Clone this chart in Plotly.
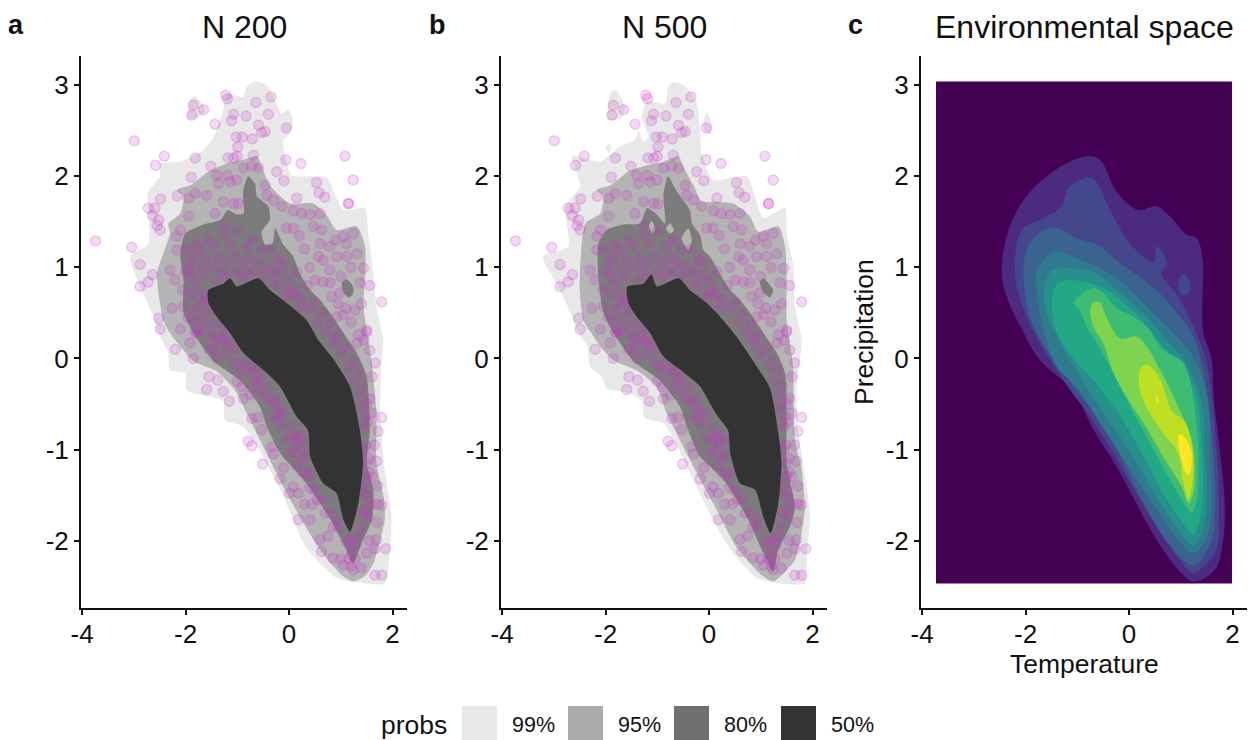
import plotly.graph_objects as go

W, H = 1250, 732   # figure size; the page sits 8 px in from the window corner
x_ticks = [-4, -2, 0, 2]
x_tick_labels = ["-4", "-2", "0", "2"]
y_ticks = [-2, -1, 0, 1, 2, 3]
y_tick_labels = ["-2", "-1", "0", "1", "2", "3"]
legend_labels = ["99%", "95%", "80%", "50%"]
panel_titles = ["N 200", "N 500", "Environmental space"]
panel_letters = ["a", "b", "c"]

a_99 = [(-0.66,3.04),(-0.43,3.0),(-0.24,2.80),(-0.15,2.69),(-0.01,2.73),(0.08,2.58),(-0.01,2.45),(-0.11,2.40),(0.05,2.01),(0.47,2.0),(0.73,1.98),(1.05,1.63),(1.47,1.65),(1.53,1.37),(1.63,0.94),(1.69,0.57),(1.82,0.20),(1.79,-0.05),(1.76,-0.60),(1.85,-1.22),(1.98,-1.74),(1.95,-2.07),(1.85,-2.47),(1.24,-2.45),(0.92,-2.41),(0.53,-2.21),(0.28,-2.03),(-0.17,-1.44),(-0.88,-0.75),(-1.24,-0.68),(-1.27,-0.47),(-1.98,-0.35),(-2.0,-0.16),(-2.30,-0.13),(-2.33,0.06),(-2.55,0.31),(-2.62,0.46),(-2.88,0.79),(-3.07,1.08),(-3.04,1.15),(-2.72,1.25),(-2.72,1.83),(-2.49,2.0),(-2.49,2.14),(-2.10,2.16),(-1.65,2.29),(-1.46,2.43),(-1.27,2.73),(-1.20,2.91),(-0.88,2.87),(-0.82,2.98)]
a_99_lobe = [(-1.91,2.84),(-1.82,2.88),(-1.62,2.73),(-1.72,2.65),(-1.95,2.63)]
a_95 = [(-2.17,1.85),(-1.91,1.90),(-1.56,2.05),(-1.20,2.14),(-0.88,2.18),(-0.62,2.22),(-0.53,2.11),(-0.37,1.90),(-0.17,1.78),(0.02,1.70),(0.47,1.70),(0.73,1.57),(0.92,1.41),(1.31,1.45),(1.47,1.23),(1.47,0.90),(1.44,0.57),(1.60,-0.05),(1.69,-0.60),(1.69,-1.15),(1.83,-1.52),(1.85,-1.77),(1.63,-2.25),(1.47,-2.39),(1.24,-2.45),(1.02,-2.38),(0.60,-2.10),(0.21,-1.74),(-0.11,-1.41),(-0.82,-0.60),(-1.04,-0.35),(-1.40,-0.14),(-1.85,-0.03),(-2.04,0.09),(-2.30,0.28),(-2.43,0.42),(-2.55,0.93),(-2.30,1.37),(-2.33,1.48),(-2.10,1.59),(-2.04,1.78)]
a_80 = [(-2.10,1.12),(-2.01,1.37),(-1.65,1.47),(-1.33,1.52),(-1.18,1.63),(-1.01,1.58),(-0.88,1.59),(-0.89,1.83),(-0.79,2.0),(-0.66,1.92),(-0.62,1.78),(-0.40,1.67),(-0.37,1.52),(-0.53,1.39),(-0.46,1.25),(-0.32,1.26),(-0.27,1.43),(-0.11,1.25),(0.08,1.12),(0.21,0.93),(0.41,0.75),(0.60,0.64),(0.79,0.50),(1.05,0.28),(1.31,0.06),(1.50,-0.20),(1.56,-0.79),(1.50,-1.15),(1.63,-1.44),(1.60,-1.77),(1.40,-2.03),(1.24,-2.25),(1.05,-2.03),(0.73,-1.70),(0.28,-1.33),(-0.17,-1.04),(-0.43,-0.75),(-0.56,-0.53),(-0.95,-0.24),(-1.46,-0.03),(-1.72,0.17),(-1.88,0.31),(-2.04,0.50),(-2.04,0.86)]
a_80_island = [(1.02,0.83),(1.11,0.87),(1.24,0.79),(1.23,0.70),(1.15,0.67),(1.05,0.73)]
a_50 = [(-1.56,0.75),(-1.27,0.82),(-1.14,0.88),(-1.01,0.79),(-0.59,0.88),(-0.37,0.75),(-0.05,0.61),(0.34,0.42),(0.57,0.20),(0.82,0.02),(1.18,-0.31),(1.37,-0.79),(1.43,-1.15),(1.34,-1.59),(1.18,-1.90),(1.05,-1.77),(0.92,-1.48),(0.66,-1.37),(0.41,-1.08),(0.37,-0.79),(0.15,-0.64),(-0.17,-0.31),(-0.43,-0.16),(-0.88,0.06),(-1.14,0.28),(-1.40,0.46),(-1.56,0.61)]

b_99 = [(-0.69,3.03),(-0.46,2.99),(-0.24,2.80),(-0.17,2.47),(-0.14,2.25),(0.08,1.96),(0.73,2.0),(1.05,1.54),(1.47,1.65),(1.50,1.37),(1.63,1.01),(1.66,0.57),(1.79,0.20),(1.69,-0.38),(1.72,-0.78),(1.89,-1.41),(1.95,-1.74),(1.89,-2.17),(1.85,-2.47),(1.24,-2.46),(0.92,-2.41),(0.47,-2.14),(0.15,-1.85),(-0.24,-1.41),(-0.88,-0.71),(-1.24,-0.66),(-1.30,-0.47),(-1.53,-0.38),(-1.98,-0.33),(-2.07,-0.20),(-2.30,-0.09),(-2.35,0.13),(-2.55,0.31),(-2.65,0.46),(-2.91,0.79),(-3.21,1.12),(-2.72,1.23),(-2.78,1.67),(-2.49,1.89),(-2.65,2.22),(-2.10,2.16),(-1.72,2.33),(-1.43,2.40),(-1.36,2.51),(-1.27,2.38),(-1.17,2.43),(-1.30,2.65),(-1.20,2.82),(-0.85,2.80),(-0.79,2.98)]
b_99_lobe_left = [(-1.81,2.95),(-1.62,2.76),(-1.69,2.64),(-1.94,2.62),(-1.91,2.91)]
b_99_lobe_right = [(-0.11,2.58),(-0.05,2.70),(0.05,2.58),(0.03,2.46),(-0.08,2.49)]
b_99_spot = [(-1.99,2.31),(-1.94,2.36),(-1.88,2.31),(-1.94,2.25)]
b_95 = [(-2.17,1.85),(-1.91,1.90),(-1.56,2.05),(-1.20,2.12),(-0.88,2.16),(-0.59,2.22),(-0.50,2.11),(-0.30,1.90),(-0.14,1.72),(0.08,1.72),(0.47,1.70),(0.79,1.56),(0.95,1.39),(1.34,1.45),(1.47,1.23),(1.50,0.90),(1.50,0.42),(1.62,-0.05),(1.66,-0.89),(1.79,-1.22),(1.85,-1.66),(1.66,-2.21),(1.24,-2.45),(1.02,-2.38),(0.53,-2.07),(0.08,-1.59),(-0.17,-1.33),(-0.82,-0.60),(-1.01,-0.31),(-1.40,-0.13),(-1.85,-0.02),(-2.10,0.13),(-2.30,0.30),(-2.43,0.42),(-2.50,0.79),(-2.39,1.48),(-2.10,1.59),(-2.04,1.78)]
b_80 = [(-2.14,1.26),(-1.98,1.41),(-1.65,1.47),(-1.33,1.48),(-1.20,1.65),(-1.01,1.58),(-0.85,1.48),(-0.88,1.81),(-0.79,2.0),(-0.66,1.87),(-0.53,1.76),(-0.37,1.63),(-0.33,1.48),(-0.17,1.35),(-0.11,1.19),(0.02,1.12),(0.21,0.93),(0.41,0.75),(0.60,0.64),(0.79,0.50),(1.05,0.28),(1.31,0.06),(1.47,-0.16),(1.50,-0.60),(1.50,-1.15),(1.66,-1.63),(1.56,-1.85),(1.34,-2.10),(1.24,-2.34),(1.11,-2.21),(0.73,-1.74),(0.28,-1.33),(-0.17,-1.08),(-0.43,-0.75),(-0.56,-0.53),(-0.95,-0.24),(-1.46,-0.03),(-1.72,0.17),(-1.88,0.31),(-2.04,0.50),(-2.14,0.90)]
b_95_gap_1 = [(-1.16,1.45),(-1.11,1.51),(-1.04,1.42),(-1.09,1.37)]
b_95_gap_2 = [(-0.83,1.43),(-0.75,1.48),(-0.68,1.41),(-0.75,1.37)]
b_95_gap_3 = [(-0.53,1.32),(-0.40,1.43),(-0.33,1.30),(-0.40,1.19)]
b_80_island = [(0.98,0.84),(1.05,0.88),(1.24,0.75),(1.18,0.67),(1.05,0.73)]
b_50 = [(-1.58,0.79),(-1.27,0.82),(-1.11,0.92),(-1.01,0.79),(-0.59,0.88),(-0.37,0.75),(-0.05,0.61),(0.21,0.46),(0.53,0.24),(0.82,0.0),(1.18,-0.33),(1.34,-0.82),(1.40,-1.15),(1.34,-1.59),(1.19,-1.92),(1.05,-1.74),(0.89,-1.44),(0.60,-1.37),(0.41,-1.04),(0.37,-0.79),(0.15,-0.62),(-0.17,-0.31),(-0.50,-0.15),(-0.88,0.02),(-1.14,0.28),(-1.40,0.46),(-1.56,0.61)]

occ_points = [(-2.99,2.39),(-3.74,1.29),(-3.04,1.22),(-2.88,1.03),(-2.88,0.79),(-2.72,0.84),(-2.64,0.92),(-2.58,2.12),(-2.41,2.22),(-1.81,2.20),(-1.89,1.99),(-2.16,1.78),(-2.48,1.75),(-2.72,1.65),(-2.59,1.65),(-2.64,1.57),(-2.52,1.52),(-2.55,1.46),(-2.49,1.41),(-1.85,2.78),(-1.88,2.67),(-1.65,2.73),(-1.43,2.57),(-1.22,2.89),(-1.19,2.85),(-1.07,2.68),(-1.11,2.61),(-0.83,2.66),(-0.64,2.81),(-0.35,2.87),(-0.40,2.68),(-0.05,2.53),(-0.59,2.56),(-0.53,2.48),(-0.46,2.49),(-1.02,2.43),(-0.90,2.43),(-0.71,2.41),(-0.99,2.32),(-1.18,2.20),(-1.07,2.20),(-1.00,2.22),(-0.69,2.23),(-0.06,2.18),(0.23,2.14),(-0.24,2.05),(-0.10,1.95),(1.08,2.22),(1.24,1.96),(1.15,1.70),(1.15,1.70),(0.53,1.93),(0.58,1.82),(0.69,1.77),(0.15,1.76),(1.79,0.62),(1.56,0.80),
(-1.51,2.11),(-0.88,2.09),(-0.72,2.11),(-0.59,2.09),(-1.40,2.01),(-1.19,2.01),(-1.36,1.92),(-1.14,1.94),(-1.01,1.96),(-1.81,1.81),(-1.94,1.76),(-1.59,1.79),(-1.27,1.72),(-1.07,1.70),(-0.98,1.70),(-0.46,1.90),(-0.43,1.79),(-0.30,1.74),(-0.14,1.67),(0.08,1.62),(0.24,1.59),(0.41,1.58),(0.60,1.59),(-1.94,1.56),(-1.43,1.59),(-1.27,1.45),(-2.10,1.41),(-2.17,1.34),(-2.17,1.19),(-2.30,0.97),(-2.20,0.86),(-1.91,0.94),(-1.72,1.19),(-1.46,1.23),(-1.14,1.26),(-0.82,1.23),(-0.53,1.19),(-0.21,1.08),(-0.05,1.43),(0.08,1.43),(0.47,1.45),(0.63,1.41),(1.05,1.34),(1.24,1.37),(0.60,1.26),(0.79,1.23),(1.11,1.26),(0.57,1.12),(0.66,1.08),(0.92,1.12),(1.11,1.12),(1.31,1.15),(1.44,0.99),(0.79,0.97),(0.50,0.86),(0.66,0.84),(0.79,0.83),(1.37,0.83),(0.82,0.68),(0.98,0.72),(0.92,0.46),(1.05,0.48),(1.27,0.53),(1.50,0.31),(1.34,0.26),(0.21,0.55),(-0.05,0.68),(-2.26,0.55),(-2.52,0.44),(-2.49,0.32),(-2.10,0.32),(-1.81,0.29),(-2.04,0.57),(-1.40,0.39),
(-2.20,0.10),(-1.85,0.0),(-1.91,0.17),(-1.78,0.28),(-1.40,0.0),(-1.27,0.20),(-1.38,-0.24),(-1.59,-0.34),(-1.27,-0.36),(-1.15,-0.47),(-0.91,-0.31),(-0.75,-0.40),(-0.88,-0.44),(-0.66,-0.14),(-0.40,-0.44),(-0.72,-0.66),(-0.79,-0.91),(-0.72,-0.96),(-0.51,-1.16),(-0.17,-1.32),(0.08,-1.41),(0.18,-1.48),(0.01,-1.48),(0.18,-1.77),(0.41,-1.77),(0.60,-1.99),(0.63,-2.12),(0.85,-2.19),(1.05,-2.27),(1.24,-2.32),(1.66,-2.38),(1.79,-2.38),(1.66,-2.09),(1.87,-2.09),(1.50,-2.14),(1.79,-1.61),(1.71,-1.40),(1.69,-1.99),(1.79,-0.65),(1.72,-0.80),(1.56,-0.44),(1.66,-0.05),(1.56,0.09),(1.47,-0.64),(1.37,-0.53),(1.44,-1.48),(1.53,-1.74),(1.69,-1.13),(1.50,0.29),(1.31,0.17),(0.89,0.17),(1.15,-2.03),(0.92,-1.77),(0.41,-1.26),(0.21,-0.84),(0.02,-1.04),(-0.21,-0.64),(-0.53,-0.78),(-0.33,-0.97),(0.08,-0.89),
(-2.0,1.2),(-1.85,1.1),(-1.7,1.0),(-1.6,1.1),(-1.5,1.0),(-1.35,1.1),(-1.2,1.05),(-1.05,1.12),(-0.9,1.05),(-0.75,1.1),(-0.6,1.05),(-0.45,1.0),(-0.3,0.95),(-0.15,0.92),(0.0,0.85),(-2.0,0.95),(-1.85,0.85),(-1.75,0.75),(-1.65,0.9),(-1.9,0.7),(-1.8,0.55),(-1.7,0.45),(-1.6,0.35),(-1.5,0.25),(-1.55,0.5),(-1.75,0.3),(-1.3,0.95),(-1.0,0.95),(-0.8,0.95),(-0.5,0.9),(-0.2,0.8),(0.1,0.75),(0.25,0.65),(0.4,0.55),(0.55,0.4),(0.7,0.3),(0.85,0.22),(1.0,0.05),(1.15,-0.1),(1.25,-0.25),(1.35,-0.4),(1.45,-0.75),(1.48,-0.95),(1.48,-1.15),(1.5,-1.3),(1.52,-1.5),(1.48,-1.65),(1.4,-1.85),(1.3,-2.05),(1.2,-2.15),(1.1,-2.0),(0.95,-1.85),(0.8,-1.7),(0.65,-1.55),(0.5,-1.45),(0.35,-1.3),(0.25,-1.1),(0.2,-0.95),(0.05,-0.75),(-0.1,-0.6),(-0.25,-0.45),(-0.4,-0.3),(-0.55,-0.2),(-0.7,-0.1),(-0.85,-0.05),(-1.0,0.1),(-1.1,0.18),(-1.25,0.35),(-1.4,0.2),(-1.55,0.1),(-1.2,0.05),(-0.95,-0.12),(-0.6,-0.3),(-0.3,-0.65),(0.1,-1.0),(0.45,-1.6),(0.75,-1.95),(1.0,-2.2),
(1.2,1.0),(1.0,0.9),(0.9,1.3),(1.2,0.4),(1.4,0.6),(0.3,1.2),(0.4,1.0),(0.2,1.35),(0.95,0.6),(1.1,0.55),(1.45,0.2),(1.6,-0.2),(1.6,-0.6),(1.65,-0.95),(1.6,-1.3),(1.7,-1.6),(1.7,-1.8),(1.55,-2.0),(1.4,-2.3),(0.3,-1.6),(-0.1,-1.2),(-0.3,-1.05),(-0.6,-0.65),(-1.0,-0.25),(-1.55,-0.2),
(-1.95,1.05),(-1.8,1.25),(-1.55,1.3),(-1.25,1.35),(-1.0,1.4),(-0.7,1.3),(-0.35,1.2),(-0.1,1.05),(0.15,0.95),(0.35,0.8),(-2.05,0.75),(-1.95,0.45),(-1.85,0.4),(-1.65,0.65),(-1.45,0.7),(-1.6,0.7),(-1.7,0.6),(-1.5,0.6),(-1.4,0.85),(-1.2,0.9),(-0.9,0.88),(-0.7,0.95),(-0.3,0.82),(0.0,0.72),(0.15,0.68),(0.5,0.62),(0.65,0.5),(0.8,0.38),(0.95,0.27),(1.1,0.12),(1.25,-0.02),(1.35,-0.15),(1.42,-0.3),(1.5,-0.5),(1.52,-0.7),(1.45,-1.0),(1.55,-1.1),(1.55,-1.25),(1.45,-1.4),(1.58,-1.6),(1.42,-1.7),(1.35,-1.95),(1.25,-1.98),(1.15,-2.2),(1.28,-2.2),(1.2,-2.28),(0.85,-1.85),(0.7,-1.7),(0.55,-1.55),(0.4,-1.42),(0.25,-1.25),(0.15,-1.18),(0.32,-1.05),(0.3,-0.9),(0.12,-0.85),(-0.05,-0.88),(-0.15,-0.72),(-0.2,-0.55),(-0.35,-0.5),(-0.5,-0.38),(-0.65,-0.25),(-0.8,-0.15),(-1.05,-0.05),(-1.2,0.15),(-1.3,0.25),(-1.45,0.1)]

env_l1 = [(-0.72,2.22),(-0.53,2.16),(-0.24,1.83),(0.18,1.63),(0.53,1.67),(0.79,1.56),(1.11,1.36),(1.31,1.32),(1.43,1.04),(1.42,0.68),(1.43,0.31),(1.60,-0.02),(1.63,-0.38),(1.76,-1.04),(1.85,-1.59),(1.82,-1.99),(1.66,-2.32),(1.24,-2.45),(0.95,-2.32),(0.66,-2.10),(0.28,-1.74),(-0.24,-1.19),(-0.69,-0.78),(-1.07,-0.36),(-1.72,-0.02),(-2.10,0.35),(-2.39,0.72),(-2.46,0.97),(-2.33,1.41),(-2.01,1.76),(-1.59,2.0),(-1.14,2.16)]
env_l2 = [(-0.78,1.99),(-0.66,1.96),(-0.37,1.63),(0.02,1.26),(0.47,1.06),(0.53,1.23),(0.66,1.15),(0.73,1.03),(0.63,0.93),(0.95,0.68),(1.24,0.35),(1.50,-0.05),(1.69,-1.0),(1.74,-1.66),(1.69,-2.10),(1.43,-2.29),(1.24,-2.36),(0.98,-2.21),(0.66,-1.96),(0.21,-1.55),(-0.30,-1.04),(-0.75,-0.64),(-1.27,-0.24),(-1.98,0.46),(-2.20,0.93),(-2.07,1.41),(-1.65,1.54),(-1.33,1.65),(-1.14,1.89)]
env_l2_island = [(0.95,0.83),(1.05,0.93),(1.18,0.83),(1.15,0.72),(1.05,0.69),(0.97,0.73)]
env_l3 = [(-1.40,1.43),(-1.01,1.32),(-0.62,1.25),(-0.30,1.10),(0.53,0.75),(0.98,0.46),(1.24,0.24),(1.46,-0.20),(1.63,-1.04),(1.66,-1.63),(1.60,-1.99),(1.24,-2.27),(0.79,-2.05),(0.28,-1.59),(-0.30,-0.93),(-0.82,-0.49),(-1.27,-0.16),(-1.85,0.35),(-2.01,0.72),(-2.01,1.12),(-1.78,1.36)]
env_l4 = [(-1.43,1.17),(-1.01,1.10),(-0.50,0.97),(-0.05,0.79),(0.41,0.53),(0.79,0.31),(1.24,0.02),(1.53,-0.49),(1.56,-1.11),(1.60,-1.59),(1.50,-1.96),(1.24,-2.14),(0.95,-1.99),(0.53,-1.66),(-0.05,-1.15),(-0.56,-0.71),(-1.01,-0.31),(-1.40,-0.09),(-1.65,0.31),(-1.78,0.72),(-1.75,1.01)]
env_l5 = [(-1.46,0.97),(-0.62,0.93),(-0.24,0.75),(0.28,0.50),(0.73,0.20),(1.11,-0.05),(1.40,-0.49),(1.47,-1.04),(1.50,-1.55),(1.43,-1.88),(1.24,-2.05),(0.98,-1.90),(0.60,-1.59),(0.08,-1.08),(-0.43,-0.64),(-0.82,-0.31),(-1.33,0.17),(-1.62,0.57),(-1.62,0.83)]
env_l6 = [(-1.17,0.86),(-0.85,0.84),(-0.56,0.79),(-0.17,0.64),(0.28,0.40),(0.66,0.13),(1.05,-0.09),(1.31,-0.45),(1.40,-0.93),(1.43,-1.44),(1.37,-1.77),(1.24,-1.94),(1.05,-1.81),(0.66,-1.48),(0.21,-1.0),(-0.24,-0.57),(-0.69,-0.24),(-1.07,0.0),(-1.40,0.30),(-1.49,0.68),(-1.40,0.81)]
env_l7 = [(-1.07,0.61),(-0.69,0.77),(-0.50,0.72),(-0.24,0.55),(0.02,0.48),(0.34,0.35),(0.66,0.09),(1.05,-0.05),(1.31,-0.75),(1.34,-1.22),(1.31,-1.55),(1.21,-1.70),(1.11,-1.63),(0.79,-1.33),(0.34,-0.86),(-0.05,-0.45),(-0.37,-0.09),(-0.62,0.17),(-0.82,0.35),(-0.95,0.53)]
env_l8 = [(-0.69,0.62),(-0.56,0.61),(-0.43,0.44),(-0.17,0.22),(0.15,0.24),(0.34,0.13),(0.53,-0.05),(0.95,-0.53),(1.21,-0.89),(1.27,-1.26),(1.24,-1.48),(1.15,-1.59),(1.02,-1.41),(0.66,-1.08),(0.28,-0.71),(-0.05,-0.42),(-0.30,-0.16),(-0.50,0.17),(-0.69,0.35),(-0.75,0.53)]
env_l9 = [(0.21,-0.13),(0.34,-0.07),(0.53,-0.16),(0.66,-0.31),(0.82,-0.57),(1.09,-0.71),(1.24,-1.08),(1.21,-1.41),(1.15,-1.55),(1.05,-1.37),(0.95,-1.04),(0.66,-0.82),(0.37,-0.57),(0.21,-0.35)]
env_l10 = [(0.97,-0.84),(1.05,-0.85),(1.21,-1.04),(1.15,-1.28),(1.05,-1.19),(0.97,-1.0)]
env_l10_spot = [(0.52,-0.40),(0.57,-0.45),(0.55,-0.49),(0.52,-0.44)]
env_bg_x = [-3.73, 1.99, 1.99, -3.73]
env_bg_y = [3.04, 3.04, -2.47, -2.47]

C99, C95, C80, C50 = "#e8e8e8", "#b4b4b4", "#7c7c7c", "#333333"
KEY = ["#e8e8e8", "#ababab", "#707070", "#333333"]
VIR = ["#4c2a80", "#45478c", "#3a6390", "#2f7b8e", "#27908c", "#22a884", "#3fbc73", "#7ed34f", "#bfdf25", "#fde725"]

fig = go.Figure()

def poly(pts, color, ax, smooth=0.6):
    xs = [p[0] for p in pts] + [pts[0][0]]
    ys = [p[1] for p in pts] + [pts[0][1]]
    fig.add_trace(go.Scatter(x=xs, y=ys, mode="lines", fill="toself", fillcolor=color,
        line=dict(color=color, width=0, shape="spline", smoothing=smooth),
        hoverinfo="skip", showlegend=False, xaxis="x"+ax, yaxis="y"+ax))

def points(ax):
    fig.add_trace(go.Scatter(x=[p[0] for p in occ_points], y=[p[1] for p in occ_points], mode="markers",
        marker=dict(size=10, color="rgba(190,50,190,0.18)", line=dict(color="rgba(205,65,205,0.24)", width=1.5)),
        hoverinfo="skip", showlegend=False, xaxis="x"+ax, yaxis="y"+ax))

for p, c in [(a_99, C99), (a_99_lobe, C99), (a_95, C95), (a_80, C80), (a_80_island, C80)]:
    poly(p, c, "")
points("")
poly(a_50, C50, "")

for p, c in [(b_99, C99), (b_99_lobe_left, C99), (b_99_lobe_right, C99), (b_99_spot, C99), (b_95, C95), (b_80, C80),
             (b_95_gap_1, C95), (b_95_gap_2, C95), (b_95_gap_3, C95), (b_80_island, C80)]:
    poly(p, c, "2")
points("2")
poly(b_50, C50, "2")

fig.add_trace(go.Scatter(x=env_bg_x + env_bg_x[:1], y=env_bg_y + env_bg_y[:1], mode="lines", fill="toself",
    fillcolor="#440154", line=dict(width=0, color="#440154"), hoverinfo="skip", showlegend=False, xaxis="x3", yaxis="y3"))
for p, c in zip([env_l1, env_l2, env_l2_island, env_l3, env_l4, env_l5, env_l6, env_l7, env_l8, env_l9, env_l10, env_l10_spot],
                [VIR[0], VIR[1], VIR[1], VIR[2], VIR[3], VIR[4], VIR[5], VIR[6], VIR[7], VIR[8], VIR[9], VIR[9]]):
    poly(p, c, "3", smooth=1.0)

FONT = "Liberation Sans"
OFF = 8
def fx(px): return (px - OFF) / W
def fy(py): return 1 - (py - OFF) / H

axis_common = dict(showgrid=False, zeroline=False, showline=True, linecolor="#111111", linewidth=2,
                   ticks="outside", ticklen=5, tickwidth=1.5, tickcolor="#111111", automargin=False,
                   tickfont=dict(family=FONT, size=26, color="#111111"))
layout = dict(width=W, height=H, autosize=False, margin=dict(l=0, r=0, t=0, b=0, pad=0),
              paper_bgcolor="white", plot_bgcolor="white", showlegend=False)
for left, suffix in [(81, ""), (501, "2"), (921, "3")]:
    layout["xaxis" + suffix] = dict(axis_common, domain=[fx(left), fx(left + 326)], range=[-4.02, 2.28],
        tickvals=x_ticks, ticktext=x_tick_labels, anchor="y" + suffix, ticklabelstandoff=-3)
    layout["yaxis" + suffix] = dict(axis_common, domain=[fy(608), fy(56)], range=[-2.74, 3.32],
        tickvals=y_ticks, ticktext=y_tick_labels, anchor="x" + suffix)
fig.update_layout(**layout)

def txt(x, y, s, size, anchor="center", bold=False, angle=0):
    fig.add_annotation(x=fx(x), y=fy(y), xref="paper", yref="paper", text=("<b>%s</b>" % s) if bold else s,
        showarrow=False, xanchor=anchor, yanchor="middle", textangle=angle, borderpad=0,
        font=dict(family=FONT, size=size, color="#111111"))

for cx, s in zip([244, 664, 1084], panel_titles):
    txt(cx, 27, s, 32)
for lx, s in zip([7, 428, 847], panel_letters):
    txt(lx, 25, s, 27, anchor="left", bold=True)
txt(1084, 664, "Temperature", 26.5)
txt(864, 332, "Precipitation", 26.5, angle=-90)

txt(380, 725, "probs", 26.5, anchor="left")
for kx, col, lab in zip([462, 568, 674, 781], KEY, legend_labels):
    fig.add_shape(type="rect", xref="paper", yref="paper", x0=fx(kx), x1=fx(kx + 35), y0=0, y1=fy(706),
                  fillcolor=col, line=dict(width=0))
    txt(kx + 49, 725, lab, 21.5, anchor="left")

fig.write_html("out.html")
